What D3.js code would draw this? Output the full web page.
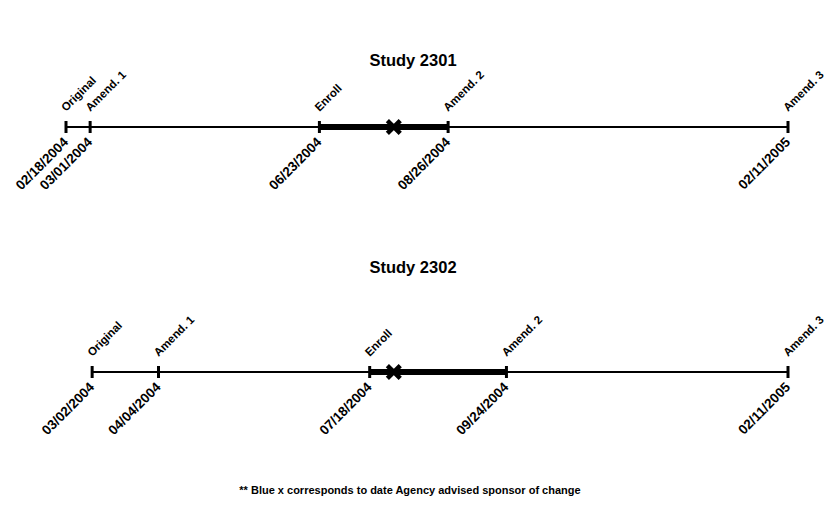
<!DOCTYPE html>
<html>
<head>
<meta charset="utf-8">
<script src="https://cdn.jsdelivr.net/npm/d3@7"></script>
<style>
  html, body { margin: 0; padding: 0; background: #fff; }
  svg { display: block; font-family: "Liberation Sans", Arial, sans-serif; }
</style>
</head>
<body>
<svg id="chart" width="828" height="514"></svg>
<script>
// ---- data ----
const studies = ["Study 2301", "Study 2302"];
const eventNames = ["Original", "Amend. 1", "Enroll", "Amend. 2", "Amend. 3"];
const dates2301 = ["02/18/2004", "03/01/2004", "06/23/2004", "08/26/2004", "02/11/2005"];
const dates2302 = ["03/02/2004", "04/04/2004", "07/18/2004", "09/24/2004", "02/11/2005"];
const agencyDates = ["07/30/2004", "07/30/2004"];
const footnote = "** Blue x corresponds to date Agency advised sponsor of change";

const parse = d3.timeParse("%m/%d/%Y");
const studyDates = [dates2301, dates2302];

const svg = d3.select("#chart");

const x = d3.scaleTime()
  .domain([parse(dates2301[0]), parse(dates2301[4])])
  .range([66, 788]);

const rows = d3.scaleOrdinal().domain(studies).range([127, 372]);
const titleY = d3.scaleOrdinal().domain(studies).range([66, 273]);

studies.forEach((name, i) => {
  const y = rows(name);
  const ds = studyDates[i].map(parse);
  const g = svg.append("g");

  g.append("text")
    .attr("x", 413).attr("y", titleY(name))
    .attr("text-anchor", "middle")
    .attr("font-size", 16.5).attr("font-weight", "bold")
    .text(name);

  // base line
  g.append("line")
    .attr("x1", x(ds[0])).attr("x2", x(ds[ds.length - 1]))
    .attr("y1", y).attr("y2", y)
    .attr("stroke", "#000").attr("stroke-width", 2.2);

  // thick enrollment segment (Enroll -> Amend. 2)
  g.append("line")
    .attr("x1", x(ds[2])).attr("x2", x(ds[3]))
    .attr("y1", y).attr("y2", y)
    .attr("stroke", "#000").attr("stroke-width", 6);

  // ticks
  g.selectAll("line.tick").data(ds).enter().append("line")
    .attr("class", "tick")
    .attr("x1", d => x(d)).attr("x2", d => x(d))
    .attr("y1", y - 6).attr("y2", y + 6)
    .attr("stroke", "#000").attr("stroke-width", 3);

  // event labels
  g.selectAll("text.ev").data(eventNames).enter().append("text")
    .attr("class", "ev")
    .attr("font-size", 11.5).attr("font-weight", "bold")
    .attr("transform", (d, j) => `translate(${x(ds[j])},${y - 15}) rotate(-45)`)
    .text(d => d);

  // date labels
  g.selectAll("text.dt").data(studyDates[i]).enter().append("text")
    .attr("class", "dt")
    .attr("font-size", 13.5).attr("font-weight", "bold")
    .attr("text-anchor", "end")
    .attr("transform", (d, j) => `translate(${x(ds[j]) + 3},${y + 16}) rotate(-45)`)
    .text(d => d);

  // agency X marker
  const ax = x(parse(agencyDates[i]));
  g.append("path")
    .attr("transform", `translate(${ax},${y})`)
    .attr("d", d3.symbol().type(d3.symbolX).size(110)())
    .attr("fill", "none").attr("stroke", "#000").attr("stroke-width", 4.5);
});

svg.append("text")
  .attr("x", 410).attr("y", 494)
  .attr("text-anchor", "middle")
  .attr("font-size", 11).attr("font-weight", "bold")
  .text(footnote);
</script>
</body>
</html>
